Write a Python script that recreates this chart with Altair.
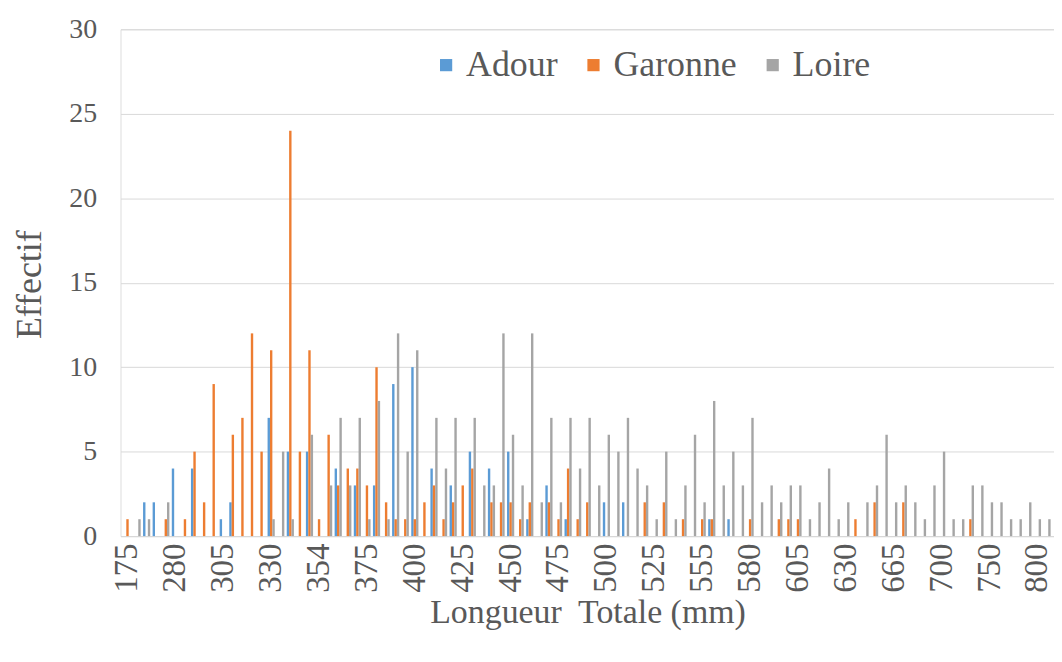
import altair as alt
import pandas as pd

categories = [175, 230, 250, 265, 275, 280, 285, 290, 295, 300,
              305, 310, 315, 320, 325, 330, 335, 340, 345, 350,
              354, 355, 360, 365, 370, 375, 380, 385, 390, 395,
              400, 405, 410, 415, 420, 425, 430, 435, 440, 445,
              450, 455, 460, 465, 470, 475, 480, 485, 490, 495,
              500, 505, 510, 515, 520, 525, 530, 535, 540, 550,
              555, 560, 565, 570, 575, 580, 585, 590, 595, 600,
              605, 610, 615, 620, 625, 630, 635, 640, 650, 660,
              665, 670, 675, 680, 690, 700, 710, 720, 730, 740,
              750, 760, 770, 780, 790, 800, 820]

adour = [0, 0, 2, 2, 0, 4, 0, 4, 0, 0,
         1, 2, 0, 0, 0, 7, 0, 5, 0, 5,
         0, 0, 4, 0, 3, 0, 3, 0, 9, 0,
         10, 0, 4, 0, 3, 0, 5, 0, 4, 0,
         5, 0, 1, 0, 3, 0, 1, 0, 0, 0,
         2, 0, 2, 0, 0, 0, 0, 0, 0, 0,
         0, 1, 0, 1, 0, 0, 0, 0, 0, 0,
         0, 0, 0, 0, 0, 0, 0, 0, 0, 0,
         0, 0, 0, 0, 0, 0, 0, 0, 0, 0,
         0, 0, 0, 0, 0, 0, 0]

garonne = [1, 0, 0, 0, 1, 0, 1, 5, 2, 9,
           0, 6, 7, 12, 5, 11, 0, 24, 5, 11,
           1, 6, 3, 4, 4, 3, 10, 2, 1, 1,
           1, 2, 3, 1, 2, 3, 4, 0, 2, 2,
           2, 1, 2, 0, 2, 1, 4, 1, 2, 0,
           0, 0, 0, 0, 2, 0, 2, 0, 1, 0,
           1, 1, 0, 0, 0, 1, 0, 0, 1, 1,
           1, 0, 0, 0, 0, 0, 1, 0, 2, 0,
           0, 2, 0, 0, 0, 0, 0, 0, 1, 0,
           0, 0, 0, 0, 0, 0, 0]

loire = [0, 1, 1, 0, 2, 0, 0, 0, 0, 0,
         0, 0, 0, 0, 0, 1, 5, 1, 0, 6,
         0, 3, 7, 3, 7, 1, 8, 1, 12, 5,
         11, 0, 7, 4, 7, 0, 7, 3, 3, 12,
         6, 3, 12, 2, 7, 2, 7, 4, 7, 3,
         6, 5, 7, 4, 3, 1, 5, 1, 3, 6,
         2, 8, 3, 5, 3, 7, 2, 3, 2, 3,
         3, 1, 2, 4, 1, 2, 0, 2, 3, 6,
         2, 3, 2, 1, 3, 5, 1, 1, 3, 3,
         2, 2, 1, 1, 2, 1, 1]

series = ["Adour", "Garonne", "Loire"]
colors = ["#5B9BD5", "#ED7D31", "#A5A5A5"]
tick_labels = ["175", "280", "305", "330", "354", "375", "400", "425", "450", "475",
               "500", "525", "555", "580", "605", "630", "665", "700", "750", "800"]
y_ticks = [0, 5, 10, 15, 20, 25, 30]

cat_str = [str(c) for c in categories]
rows = []
for i, c in enumerate(cat_str):
    for s, vals in zip(series, [adour, garonne, loire]):
        if vals[i] > 0:
            rows.append({"lt": c, "serie": s, "effectif": vals[i]})
df = pd.DataFrame(rows)

FONT = "Liberation Serif"
TXT = "#595959"

chart = alt.Chart(df).mark_bar().encode(
    x=alt.X("lt:N",
            scale=alt.Scale(domain=cat_str, paddingInner=0.25, paddingOuter=0.353),
            axis=alt.Axis(values=tick_labels, labelAngle=-90, labelFont=FONT,
                          labelFontSize=33, labelColor=TXT, labelPadding=7,
                          ticks=False, domainColor="#D9D9D9", domainWidth=1,
                          labelOverlap=False,
                          titleFont=FONT, titleFontSize=34, titleColor=TXT,
                          titleFontWeight="normal", titleY=87,
                          titleX=469, titleAlign="center",
                          titleBaseline="alphabetic"),
            title="Longueur\u00a0 Totale (mm)"),
    xOffset=alt.XOffset("serie:N", scale=alt.Scale(domain=series, paddingInner=0.0)),
    y=alt.Y("effectif:Q",
            scale=alt.Scale(domain=[0, 30]),
            axis=alt.Axis(values=y_ticks, labelFont=FONT, labelFontSize=28,
                          labelColor=TXT, labelPadding=24, ticks=False, domain=False,
                          gridColor="#D9D9D9", gridWidth=1,
                          titleFont=FONT, titleFontSize=36, titleColor=TXT,
                          titleFontWeight="normal", titleAngle=-90,
                          titleX=-80, titleY=256, titleBaseline="alphabetic",
                          titleAlign="center"),
            title="Effectif"),
    color=alt.Color("serie:N",
                    scale=alt.Scale(domain=series, range=colors),
                    legend=alt.Legend(title=None, orient="none", direction="horizontal",
                                      legendX=309, legendY=18,
                                      symbolType="square", symbolSize=150,
                                      symbolStrokeWidth=0,
                                      labelFont=FONT, labelFontSize=36,
                                      labelColor=TXT, labelOffset=2,
                                      columnPadding=18)),
).properties(
    width=937.5,
    height=509,
    autosize=alt.AutoSizeParams(type="none"),
    padding={"left": 113, "top": 20, "right": 0, "bottom": 110},
).configure_view(stroke=None).configure(background="white")

chart.save("out.html", embed_options={"renderer": "svg", "actions": False})
